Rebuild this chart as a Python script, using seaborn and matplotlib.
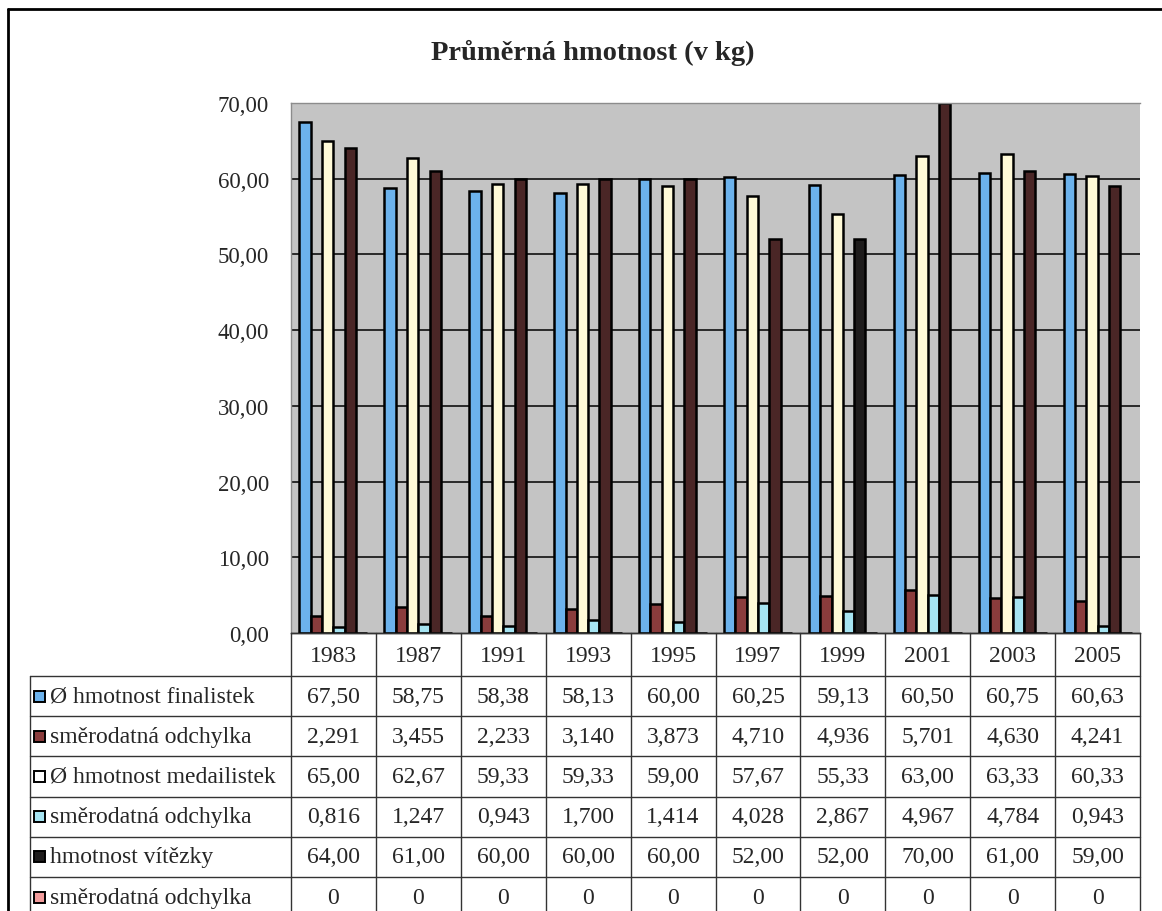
import matplotlib
matplotlib.use("Agg")
import matplotlib.pyplot as plt
from matplotlib.lines import Line2D
from matplotlib.patches import Rectangle
import pandas as pd
import seaborn as sns

# ---- data -------------------------------------------------------------
years = ["1983", "1987", "1991", "1993", "1995", "1997", "1999", "2001", "2003", "2005"]

finalistky = [67.50, 58.75, 58.38, 58.13, 60.00, 60.25, 59.13, 60.50, 60.75, 60.63]
sd_finalistky = [2.291, 3.455, 2.233, 3.140, 3.873, 4.710, 4.936, 5.701, 4.630, 4.241]
medailistky = [65.00, 62.67, 59.33, 59.33, 59.00, 57.67, 55.33, 63.00, 63.33, 60.33]
sd_medailistky = [0.816, 1.247, 0.943, 1.700, 1.414, 4.028, 2.867, 4.967, 4.784, 0.943]
vitezka = [64.00, 61.00, 60.00, 60.00, 60.00, 52.00, 52.00, 70.00, 61.00, 59.00]
sd_vitezka = [0, 0, 0, 0, 0, 0, 0, 0, 0, 0]

row_labels = [
    "Ø hmotnost finalistek",
    "směrodatná odchylka",
    "Ø hmotnost medailistek",
    "směrodatná odchylka",
    "hmotnost vítězky",
    "směrodatná odchylka",
]
series_keys = ["fin", "sd_fin", "med", "sd_med", "vit", "sd_vit"]
series_values = [finalistky, sd_finalistky, medailistky, sd_medailistky, vitezka, sd_vitezka]
series_decimals = [2, 3, 2, 3, 2, 0]
colors = ["#6cb2ec", "#8a3c3c", "#fffad8", "#a6e4f2", "#4a2626", "#f29c9c"]
key_colors = ["#6cb2ec", "#8a3c3c", "#ffffff", "#a6e4f2", "#1e1c1c", "#f29c9c"]

y_ticks = [0, 10, 20, 30, 40, 50, 60, 70]

df = pd.DataFrame(
    [(y, k, v) for k, vals in zip(series_keys, series_values) for y, v in zip(years, vals)],
    columns=["rok", "serie", "hodnota"],
)

# ---- layout helpers (pixel geometry) ---------------------------------
W, H = 1162, 912
FONT = "Liberation Serif"
TXT = 17


def fx(x):
    return x / W


def fy(y):
    return 1 - y / H


PL, PR, PT, PB = 291, 1140, 104, 634   # plot area edges
TABLE_LEFT = 30
HEADER_BOTTOM = 677
ROW_H = 40.2

sns.set_theme(style="white")
plt.rcParams["font.family"] = [FONT, "DejaVu Sans"]

fig = plt.figure(figsize=(W / 100, H / 100), dpi=100)
fig.patch.set_facecolor("white")
ax = fig.add_axes([fx(PL), fy(PB), fx(PR - PL), (PB - PT) / H])

sns.barplot(
    data=df, x="rok", y="hodnota", hue="serie",
    order=years, hue_order=series_keys, palette=colors,
    saturation=1, width=0.8, edgecolor="black", linewidth=1.8,
    legend=False, ax=ax,
)

# the 1999 winner column is printed almost black
ax.containers[4][years.index("1999")].set_facecolor("#1e1c1c")

ax.set_facecolor("#c4c4c4")
ax.set_xlim(-0.5, len(years) - 0.5)
ax.set_ylim(0, 70)
ax.set_yticks(y_ticks)
ax.set_yticklabels([f"{t:.2f}".replace(".", ",") for t in y_ticks],
                   fontsize=16.5, family=FONT)
ax.set_xticks([])
ax.set_xlabel("")
ax.set_ylabel("")
ax.tick_params(axis="y", length=6, width=1, color="black", direction="out", pad=10)
ax.set_axisbelow(True)
for t in y_ticks[1:-1]:
    ax.axhline(t, color="black", lw=1.1, zorder=0.5)
ax.axhline(70, color="#8c8c8c", lw=1.2, zorder=0.5)
for side in ["left", "top"]:
    ax.spines[side].set_color("#8c8c8c")
    ax.spines[side].set_linewidth(1)
ax.spines["right"].set_visible(False)
ax.spines["bottom"].set_color("black")
ax.spines["bottom"].set_linewidth(1)

# ---- title ------------------------------------------------------------
fig.text(fx(593), fy(53), "Průměrná hmotnost (v kg)", ha="center", va="center",
         fontsize=20.5, fontweight="bold", family=FONT)

# ---- outer frame ------------------------------------------------------
fig.add_artist(Line2D([fx(8), fx(1162)], [fy(10), fy(10)], color="black", lw=2))
fig.add_artist(Line2D([fx(8), fx(8)], [fy(10), fy(912)], color="black", lw=2))

# ---- data table ---------------------------------------------------------
col_w = (PR - PL) / len(years)
col_x = [PL + i * col_w for i in range(len(years) + 1)]
line_kw = dict(color="#333333", lw=1)
row_tops = [HEADER_BOTTOM + i * ROW_H for i in range(len(row_labels) + 1)]
table_bottom = H

# header row with years
fig.add_artist(Line2D([fx(PL), fx(PR)], [fy(PB), fy(PB)], **line_kw))
for x in col_x:
    fig.add_artist(Line2D([fx(x), fx(x)], [fy(PB), fy(table_bottom)], **line_kw))
for i, yr in enumerate(years):
    fig.text(fx(col_x[i] + col_w / 2), fy((PB + HEADER_BOTTOM) / 2 + 1), yr,
             ha="center", va="center", fontsize=TXT, family=FONT)

# body rows
fig.add_artist(Line2D([fx(TABLE_LEFT), fx(TABLE_LEFT)], [fy(HEADER_BOTTOM), fy(table_bottom)], **line_kw))
for y in row_tops[:-1]:
    fig.add_artist(Line2D([fx(TABLE_LEFT), fx(PR)], [fy(y), fy(y)], **line_kw))

for r, (label, vals, dec) in enumerate(zip(row_labels, series_values, series_decimals)):
    yc = row_tops[r] + ROW_H / 2
    fig.add_artist(Rectangle((fx(34), fy(yc + 5.5)), 11 / W, 11 / H,
                             facecolor=key_colors[r], edgecolor="black", lw=1.4))
    fig.text(fx(50), fy(yc), label, ha="left", va="center", fontsize=TXT, family=FONT)
    for i, v in enumerate(vals):
        txt = f"{v:.{dec}f}".replace(".", ",") if dec else f"{int(v)}"
        fig.text(fx(col_x[i] + col_w / 2), fy(yc), txt, ha="center", va="center",
                 fontsize=TXT, family=FONT)

fig.savefig("out.png", dpi=100)
